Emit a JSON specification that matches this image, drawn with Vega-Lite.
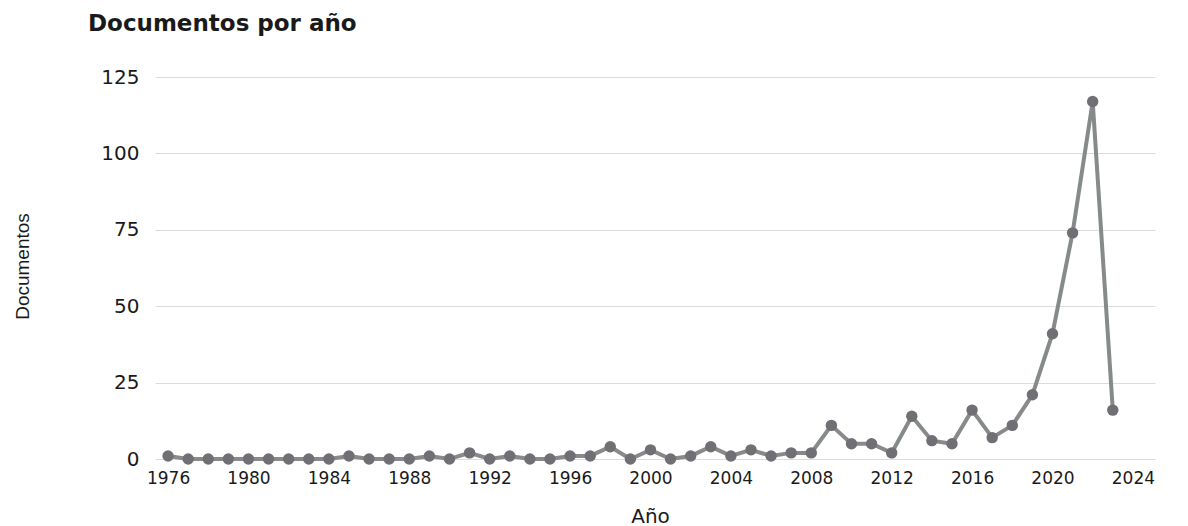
{
  "$schema": "https://vega.github.io/schema/vega-lite/v6.json",
  "width": 1000,
  "height": 382,
  "autosize": {"type": "none"},
  "padding": {"left": 155, "top": 77, "right": 33, "bottom": 67},
  "background": "white",
  "title": {
    "text": "Documentos por año",
    "anchor": "start",
    "frame": "group",
    "dx": -67,
    "offset": 31,
    "font": "DejaVu Sans",
    "fontSize": 23,
    "fontWeight": "bold",
    "color": "#1a1a1a"
  },
  "data": {
    "values": [
      {"anio": 1976, "docs": 1}, {"anio": 1977, "docs": 0}, {"anio": 1978, "docs": 0},
      {"anio": 1979, "docs": 0}, {"anio": 1980, "docs": 0}, {"anio": 1981, "docs": 0},
      {"anio": 1982, "docs": 0}, {"anio": 1983, "docs": 0}, {"anio": 1984, "docs": 0},
      {"anio": 1985, "docs": 1}, {"anio": 1986, "docs": 0}, {"anio": 1987, "docs": 0},
      {"anio": 1988, "docs": 0}, {"anio": 1989, "docs": 1}, {"anio": 1990, "docs": 0},
      {"anio": 1991, "docs": 2}, {"anio": 1992, "docs": 0}, {"anio": 1993, "docs": 1},
      {"anio": 1994, "docs": 0}, {"anio": 1995, "docs": 0}, {"anio": 1996, "docs": 1},
      {"anio": 1997, "docs": 1}, {"anio": 1998, "docs": 4}, {"anio": 1999, "docs": 0},
      {"anio": 2000, "docs": 3}, {"anio": 2001, "docs": 0}, {"anio": 2002, "docs": 1},
      {"anio": 2003, "docs": 4}, {"anio": 2004, "docs": 1}, {"anio": 2005, "docs": 3},
      {"anio": 2006, "docs": 1}, {"anio": 2007, "docs": 2}, {"anio": 2008, "docs": 2},
      {"anio": 2009, "docs": 11}, {"anio": 2010, "docs": 5}, {"anio": 2011, "docs": 5},
      {"anio": 2012, "docs": 2}, {"anio": 2013, "docs": 14}, {"anio": 2014, "docs": 6},
      {"anio": 2015, "docs": 5}, {"anio": 2016, "docs": 16}, {"anio": 2017, "docs": 7},
      {"anio": 2018, "docs": 11}, {"anio": 2019, "docs": 21}, {"anio": 2020, "docs": 41},
      {"anio": 2021, "docs": 74}, {"anio": 2022, "docs": 117}, {"anio": 2023, "docs": 16}
    ]
  },
  "encoding": {
    "x": {
      "field": "anio",
      "type": "quantitative",
      "scale": {"domain": [1975.35, 2025.1], "nice": false, "zero": false},
      "axis": {
        "title": "Año",
        "values": [1976, 1980, 1984, 1988, 1992, 1996, 2000, 2004, 2008, 2012, 2016, 2020, 2024],
        "format": "d",
        "grid": false,
        "domain": false,
        "ticks": false,
        "labelPadding": 11,
        "labelFont": "DejaVu Sans",
        "labelFontSize": 17,
        "labelColor": "#1a1a1a",
        "titleFont": "DejaVu Sans",
        "titleFontSize": 20,
        "titleFontWeight": "normal",
        "titleColor": "#1a1a1a",
        "titleX": 495,
        "titleY": 63,
        "titleBaseline": "alphabetic",
        "titleAlign": "center"
      }
    },
    "y": {
      "field": "docs",
      "type": "quantitative",
      "scale": {"domain": [0, 125], "nice": false},
      "axis": {
        "title": "Documentos",
        "values": [0, 25, 50, 75, 100, 125],
        "grid": true,
        "gridColor": "#dcdcdc",
        "gridWidth": 1,
        "domain": false,
        "ticks": false,
        "labelPadding": 16,
        "labelFont": "DejaVu Sans",
        "labelFontSize": 20,
        "labelColor": "#1a1a1a",
        "titleFont": "Liberation Sans",
        "titleFontSize": 19,
        "titleFontWeight": "normal",
        "titleColor": "#1a1a1a",
        "titleAngle": -90,
        "titleX": -133,
        "titleY": 189,
        "titleAlign": "center",
        "titleBaseline": "middle"
      }
    }
  },
  "layer": [
    {"mark": {"type": "line", "color": "#868b8a", "strokeWidth": 4}},
    {"mark": {"type": "circle", "color": "#707074", "opacity": 1, "size": 130}}
  ],
  "config": {"view": {"stroke": null}}
}
